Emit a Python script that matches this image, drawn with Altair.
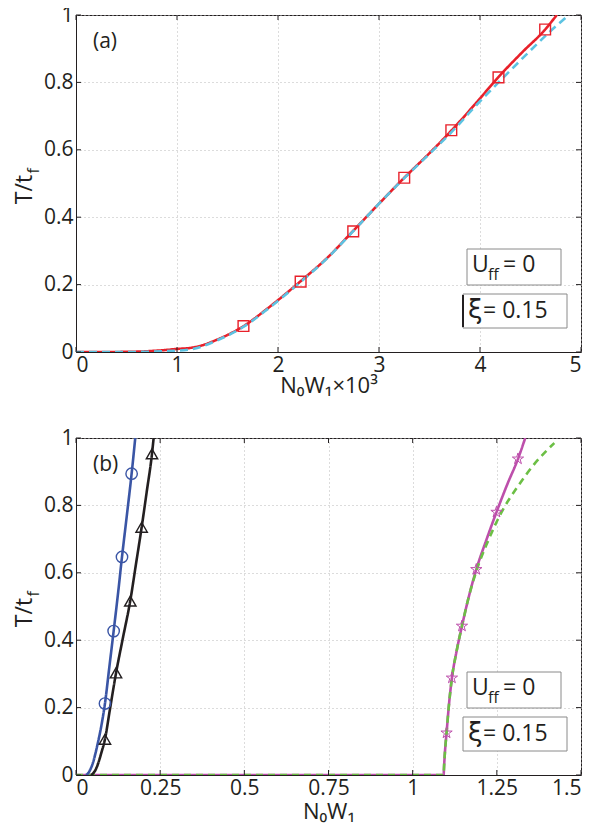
import altair as alt
import pandas as pd

# ---------------- data: panel (a) ----------------
a_red_x = [0, 0.3, 0.6, 0.8, 1.0, 1.15, 1.25, 1.4, 1.66, 1.9, 2.22, 2.5, 2.74, 3.0, 3.25, 3.5, 3.72, 3.95, 4.18, 4.42, 4.645, 4.76]
a_red_y = [0, 0, 0.001, 0.004, 0.009, 0.013, 0.02, 0.037, 0.077, 0.13, 0.209, 0.283, 0.358, 0.44, 0.517, 0.59, 0.658, 0.735, 0.815, 0.89, 0.957, 1.0]
a_cyan_x = [0, 0.5, 1.0, 1.2, 1.4, 1.66, 1.9, 2.22, 2.5, 2.74, 3.0, 3.25, 3.5, 3.72, 3.95, 4.2, 4.45, 4.69, 4.88]
a_cyan_y = [0, 0, 0.004, 0.012, 0.035, 0.075, 0.128, 0.207, 0.282, 0.357, 0.44, 0.516, 0.588, 0.653, 0.728, 0.805, 0.88, 0.95, 1.0]
a_sq_x = [1.658, 2.224, 2.745, 3.25, 3.716, 4.183, 4.645]
a_sq_y = [0.077, 0.209, 0.358, 0.517, 0.658, 0.815, 0.957]
a_xticks = [0, 1, 2, 3, 4, 5]
a_yticks = [0, 0.2, 0.4, 0.6, 0.8, 1]

# ---------------- data: panel (b) ----------------
b_blue_x = [0.0297, 0.035, 0.042, 0.05, 0.058, 0.066, 0.076, 0.086, 0.099, 0.1118, 0.125, 0.1366, 0.151, 0.1652, 0.176]
b_blue_y = [0, 0.004, 0.015, 0.035, 0.065, 0.1, 0.15, 0.212, 0.32, 0.427, 0.54, 0.647, 0.77, 0.894, 1.0]
b_circ_x = [0.086, 0.1118, 0.1366, 0.1652]
b_circ_y = [0.212, 0.427, 0.647, 0.894]
b_black_x = [0.0446, 0.05, 0.058, 0.066, 0.075, 0.086, 0.1, 0.119, 0.14, 0.161, 0.178, 0.195, 0.21, 0.2257, 0.2306]
b_black_y = [0, 0.004, 0.015, 0.035, 0.065, 0.106, 0.19, 0.303, 0.41, 0.516, 0.625, 0.735, 0.84, 0.953, 1.0]
b_tri_x = [0.086, 0.1188, 0.1613, 0.195, 0.2257]
b_tri_y = [0.106, 0.303, 0.516, 0.735, 0.953]
b_mag_x = [0, 1.0918, 1.0935, 1.096, 1.1007, 1.107, 1.1166, 1.13, 1.1464, 1.167, 1.189, 1.218, 1.249, 1.28, 1.3128, 1.3344]
b_mag_y = [0, 0, 0.03, 0.07, 0.125, 0.2, 0.288, 0.365, 0.442, 0.53, 0.61, 0.695, 0.78, 0.86, 0.938, 1.0]
b_green_x = [0, 1.0918, 1.0935, 1.096, 1.1007, 1.107, 1.1166, 1.13, 1.1464, 1.167, 1.189, 1.222, 1.264, 1.31, 1.36, 1.4206]
b_green_y = [0, 0, 0.03, 0.07, 0.125, 0.2, 0.288, 0.365, 0.442, 0.53, 0.605, 0.69, 0.78, 0.853, 0.921, 0.985]
b_star_x = [1.1007, 1.1166, 1.1464, 1.189, 1.249, 1.3128]
b_star_y = [0.125, 0.288, 0.442, 0.61, 0.78, 0.938]
b_xticks = [0, 0.25, 0.5, 0.75, 1, 1.25, 1.5]
b_yticks = [0, 0.2, 0.4, 0.6, 0.8, 1]

W, H = 505, 337
FONT = "Open Sans"
INK = "#231f20"
STAR = "M0,-1L0.2245,-0.309L0.951,-0.309L0.363,0.118L0.588,0.809L0,0.382L-0.588,0.809L-0.363,0.118L-0.951,-0.309L-0.2245,-0.309Z"


def df(x, y):
    return pd.DataFrame({"x": x, "y": y})


def one(t):
    return pd.DataFrame({"t": [t]})


def panel(xdom, xticks, yticks, xtitle, label, series, markers, glitch, tpad):
    xs = alt.Scale(domain=xdom, nice=False, zero=False)
    ys = alt.Scale(domain=[0, 1], nice=False)
    xax = alt.Axis(values=xticks, format=".3~g", ticks=False, labelPadding=2,
                   grid=True, gridDash=[1, 3], gridColor="#b8b8b8",
                   title=xtitle, titlePadding=tpad)
    yax = alt.Axis(values=yticks, format=".3~g", ticks=False, labelPadding=3,
                   grid=True, gridDash=[1, 3], gridColor="#b8b8b8")
    layers = []
    first = True
    for (x, y, color, dash, width) in series:
        mk = alt.Chart(df(x, y)).mark_line(color=color, strokeWidth=width,
                                           strokeDash=dash, interpolate="monotone",
                                           clip=True)
        if first:
            enc = mk.encode(x=alt.X("x:Q", scale=xs, axis=xax),
                            y=alt.Y("y:Q", scale=ys, axis=yax, title=None))
            first = False
        else:
            enc = mk.encode(x=alt.X("x:Q", scale=xs), y=alt.Y("y:Q", scale=ys))
        layers.append(enc)
    for (x, y, color, shape, size, sw) in markers:
        layers.append(alt.Chart(df(x, y)).mark_point(
            shape=shape, size=size, color=color, filled=False, strokeWidth=sw,
            opacity=1).encode(x=alt.X("x:Q", scale=xs), y=alt.Y("y:Q", scale=ys)))

    # inward ticks on all four sides
    tx = pd.DataFrame({"x": xticks})
    ty = pd.DataFrame({"y": yticks})
    for (a, b) in [(H, H - 5), (0, 5)]:
        layers.append(alt.Chart(tx).mark_rule(color=INK, strokeWidth=1).encode(
            x=alt.X("x:Q", scale=xs), y=alt.value(a), y2=alt.value(b)))
    for (a, b) in [(0, 5), (W, W - 5)]:
        layers.append(alt.Chart(ty).mark_rule(color=INK, strokeWidth=1).encode(
            y=alt.Y("y:Q", scale=ys), x=alt.value(a), x2=alt.value(b)))

    # annotation boxes
    boxes = [(391, 485, 234, 270), (387, 491, 279, 313)]
    for (x1, x2, y1, y2) in boxes:
        layers.append(alt.Chart(one("")).mark_rect(
            fill="white", stroke="#8a8a8a", strokeWidth=1).encode(
            x=alt.value(x1), x2=alt.value(x2), y=alt.value(y1), y2=alt.value(y2)))
    if glitch:
        layers.append(alt.Chart(one("")).mark_rule(color=INK, strokeWidth=2).encode(
            x=alt.value(387), y=alt.value(280), y2=alt.value(312)))

    def txt(t, x, y, size, font=FONT, angle=0, align="left"):
        return alt.Chart(one(t)).mark_text(
            font=font, fontSize=size, color=INK, align=align, baseline="alphabetic",
            angle=angle).encode(x=alt.value(x), y=alt.value(y), text="t:N")

    layers.append(txt("U", 396, 257, 23))
    layers.append(txt("ff", 412, 265, 16))
    layers.append(txt("= 0", 427, 257, 23))
    layers.append(txt("ξ", 392, 303, 26, font="DejaVu Sans"))
    layers.append(txt("= 0.15", 407, 303, 23))
    layers.append(txt(label, 17, 33, 21))
    # y title  T/t_f
    layers.append(txt("T/t", -44, H / 2 + 6, 23, angle=270, align="center"))
    layers.append(txt("f", -37, H / 2 - 10, 16, angle=270, align="left"))

    return alt.layer(*layers).properties(width=W, height=H)


pa = panel([0, 5], a_xticks, a_yticks, "N₀W₁×10³", "(a)",
           [(a_red_x, a_red_y, "#e8202a", [1, 0], 2.6),
            (a_cyan_x, a_cyan_y, "#5cc3e2", [8, 5], 2.6)],
           [(a_sq_x, a_sq_y, "#e8202a", "square", 115, 1.4)], True, 0)

pb = panel([0, 1.5], b_xticks, b_yticks, "N₀W₁", "(b)",
           [(b_mag_x, b_mag_y, "#bd4fab", [1, 0], 2.6),
            (b_green_x, b_green_y, "#6cbf45", [7, 5], 2.6),
            (b_blue_x, b_blue_y, "#3a55a5", [1, 0], 2.6),
            (b_black_x, b_black_y, INK, [1, 0], 2.6)],
           [(b_circ_x, b_circ_y, "#3a55a5", "circle", 130, 1.4),
            (b_tri_x, b_tri_y, INK, "triangle-up", 130, 1.4),
            (b_star_x, b_star_y, "#bd4fab", STAR, 140, 1.0)], False, 3)

chart = alt.vconcat(pa, pb, spacing=86, bounds="flush").properties(
    padding={"left": 5, "top": -5, "right": 5, "bottom": 5}
).configure_view(
    stroke=INK, strokeWidth=1
).configure_axis(
    labelFont=FONT, labelFontSize=21, labelColor=INK,
    titleFont=FONT, titleFontSize=22, titleColor=INK, titleFontWeight="normal",
    domainColor=INK, domainWidth=1
)

chart.save("out.html", embed_options={"renderer": "svg", "actions": False})
